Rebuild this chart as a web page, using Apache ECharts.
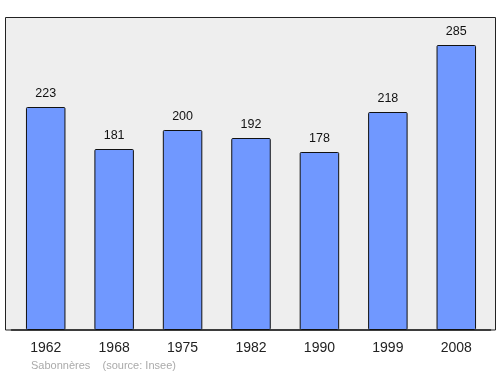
<!DOCTYPE html>
<html><head><meta charset="utf-8">
<script src="https://cdn.jsdelivr.net/npm/echarts@6/dist/echarts.min.js"></script>
<style>html,body{margin:0;padding:0;background:#fff}#c{width:500px;height:374px}</style>
</head><body><div id="c"></div>
<script>
const years = ['1962','1968','1975','1982','1990','1999','2008'];
const population = [223,181,200,192,178,218,285];
const footer = 'Sabonnères    (source: Insee)';

const chart = echarts.init(document.getElementById('c'), null, {renderer:'canvas'});
chart.setOption({
  animation:false,
  backgroundColor:'#ffffff',
  graphic:[
    {type:'rect', z:-10, shape:{x:5.5,y:17.5,width:490,height:312.5}, style:{fill:'#eeeeee',stroke:'#222',lineWidth:1}},
    {type:'text', left:31, top:360, style:{text:footer, fill:'#aaaaaa', font:'11px "Liberation Sans", Arial, sans-serif'}}
  ],
  grid:{left:11.5, right:9.5, top:17, bottom:44},
  xAxis:{type:'category', data:years,
    axisLine:{show:true,lineStyle:{color:'#222',width:1.5}}, axisTick:{show:false},
    axisLabel:{color:'#222', fontSize:14, margin:11, fontFamily:'"Liberation Sans", Arial, sans-serif'}},
  yAxis:{type:'value', min:0, max:313, show:false, splitLine:{show:false}},
  series:[{type:'bar', data:population, barWidth:39.5,
    itemStyle:{color:'#7098ff', borderColor:'#111', borderWidth:1, borderRadius:1},
    label:{show:true, position:'top', distance:7, color:'#111', fontSize:12.5, fontFamily:'"Liberation Sans", Arial, sans-serif'}}]
});
</script></body></html>
